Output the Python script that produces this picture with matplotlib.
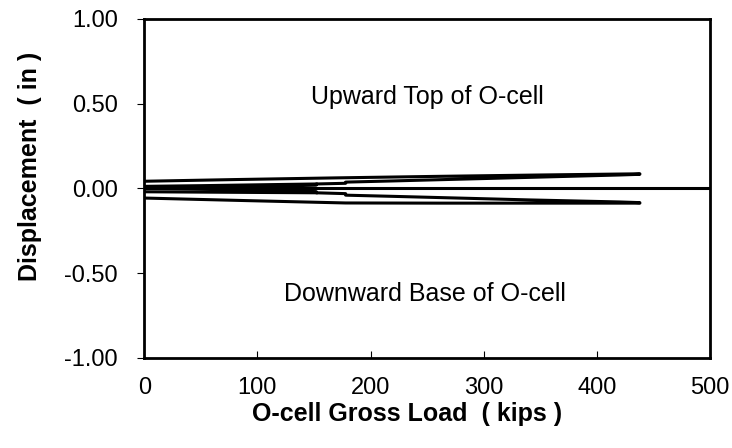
"""O-cell load test: displacement vs gross load."""

import matplotlib

matplotlib.use("Agg")
import matplotlib.pyplot as plt

plt.rcParams["font.family"] = ["Liberation Sans", "DejaVu Sans"]

# Upward movement of the top of the O-cell (load, unload)
up_load_kips = [0, 40, 80, 120, 152, 152, 178, 178, 220, 260, 300, 340, 380, 420, 438,
                438, 350, 260, 170, 80, 0]
up_disp_in = [0.0, 0.004, 0.009, 0.014, 0.019, 0.026, 0.030, 0.037, 0.044, 0.051, 0.058,
              0.065, 0.072, 0.079, 0.083, 0.086, 0.079, 0.071, 0.062, 0.052, 0.042]

# Early unload loop of the upward curve
up_loop_load = [152, 100, 50, 0]
up_loop_disp = [0.026, 0.021, 0.016, 0.012]

# Downward movement of the base of the O-cell (load, unload)
down_load_kips = [0, 40, 80, 120, 152, 152, 178, 178, 220, 260, 300, 340, 380, 420, 438,
                  438, 350, 260, 178, 90, 0]
down_disp_in = [0.0, -0.004, -0.009, -0.014, -0.019, -0.026, -0.031, -0.040, -0.047,
                -0.054, -0.061, -0.068, -0.074, -0.080, -0.084, -0.087, -0.087, -0.087,
                -0.086, -0.072, -0.057]

down_loop_load = [152, 100, 50, 0]
down_loop_disp = [-0.026, -0.024, -0.022, -0.020]

x_ticks = [0, 100, 200, 300, 400, 500]
y_ticks = [-1.0, -0.5, 0.0, 0.5, 1.0]


def main() -> None:
    fig = plt.figure(figsize=(7.32, 4.48), dpi=100)
    ax = fig.add_axes([0.197, 0.201, 0.773, 0.757])

    ax.axhline(0, color="black", lw=2.2)
    ax.plot(up_load_kips, up_disp_in, color="black", lw=2.2)
    ax.plot(up_loop_load, up_loop_disp, color="black", lw=2.2)
    ax.plot(down_load_kips, down_disp_in, color="black", lw=2.2)
    ax.plot(down_loop_load, down_loop_disp, color="black", lw=2.2)

    ax.text(250, 0.54, "Upward Top of O-cell", ha="center", va="center", fontsize=18)
    ax.text(248, -0.62, "Downward Base of O-cell", ha="center", va="center", fontsize=18)

    ax.set_xlim(0, 500)
    ax.set_ylim(-1.0, 1.0)
    ax.set_xticks(x_ticks)
    ax.set_yticks(y_ticks)
    ax.set_yticklabels([f"{v:.2f}" for v in y_ticks])
    ax.tick_params(axis="x", direction="in", length=5, width=0.8, labelsize=17, pad=14)
    ax.tick_params(axis="y", direction="out", length=5, width=0.8, labelsize=17, pad=14)
    for spine in ax.spines.values():
        spine.set_linewidth(2)

    ax.set_xlabel("O-cell Gross Load  ( kips )", fontsize=18, fontweight="bold")
    ax.set_ylabel("Displacement  ( in )", fontsize=18, fontweight="bold")
    ax.xaxis.set_label_coords(0.464, -0.13)
    ax.yaxis.set_label_coords(-0.18, 0.565)

    fig.savefig("out.png", dpi=100)


if __name__ == "__main__":
    main()
